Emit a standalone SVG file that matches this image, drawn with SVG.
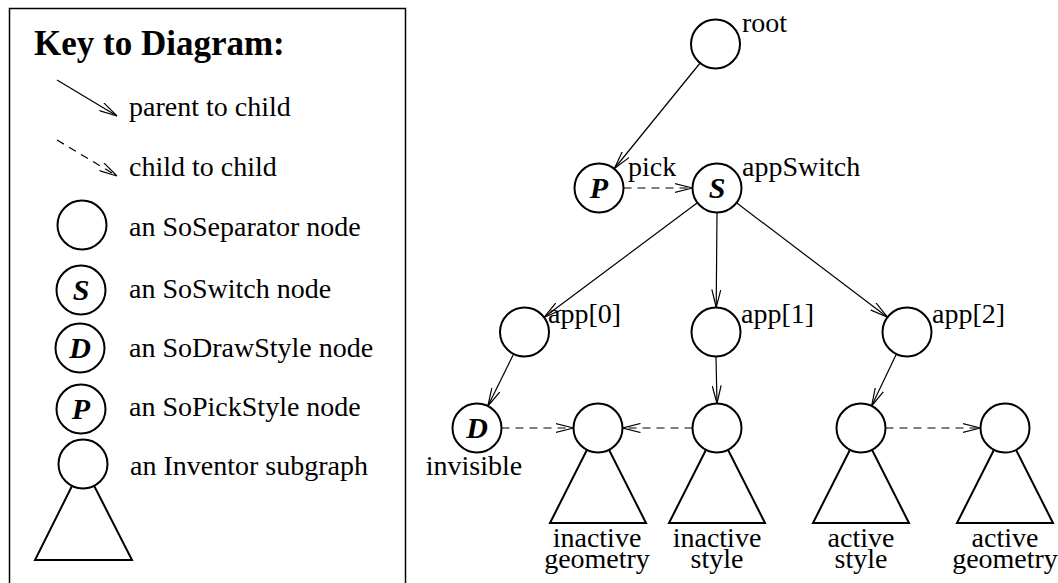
<svg xmlns="http://www.w3.org/2000/svg" width="1058" height="583" viewBox="0 0 1058 583">
<style>
text{font-family:'Liberation Serif','DejaVu Serif','Noto Serif',serif;fill:#000}
.t{font-size:28px}
.tm{font-size:28px;text-anchor:middle}
.title{font-size:35px;font-weight:bold}
.let{font-size:30px;font-weight:bold;font-style:italic;text-anchor:middle}
.n{fill:#fff;stroke:#000;stroke-width:2}
.tri{fill:none;stroke:#000;stroke-width:2;stroke-linejoin:miter}
.e{stroke:#000;stroke-width:1.2;fill:none;marker-end:url(#ah)}
.d{stroke:#000;stroke-width:1.2;fill:none;stroke-dasharray:8 6;marker-end:url(#ah)}
</style>
<defs>
<marker id="ah" viewBox="0 0 18 10" refX="18" refY="5" markerWidth="18" markerHeight="10" markerUnits="userSpaceOnUse" orient="auto">
<path d="M0,0.5 L18,5 L0,9.5" fill="none" stroke="#000" stroke-width="1.2"/>
</marker>
</defs>
<rect width="1058" height="583" fill="#fff"/>

<g id="key" font-family="Liberation Serif, serif">
<rect x="9.5" y="8.5" width="396" height="590" fill="none" stroke="#000" stroke-width="1.5"/>
<text class="title" x="34" y="55">Key to Diagram:</text>
<line class="e" x1="57" y1="80" x2="117" y2="116"/>
<text class="t" x="129" y="116">parent to child</text>
<line class="d" x1="57" y1="140" x2="117" y2="176"/>
<text class="t" x="129" y="176">child to child</text>
<circle class="n" cx="82" cy="225" r="24.5"/>
<text class="t" x="129" y="236">an SoSeparator node</text>
<circle class="n" cx="81" cy="290" r="24.5"/>
<text class="let" x="81" y="300">S</text>
<text class="t" x="129" y="298">an SoSwitch node</text>
<circle class="n" cx="80" cy="348" r="24.5"/>
<text class="let" x="80" y="358">D</text>
<text class="t" x="129" y="357">an SoDrawStyle node</text>
<circle class="n" cx="81" cy="409" r="24.5"/>
<text class="let" x="81" y="419">P</text>
<text class="t" x="129" y="416">an SoPickStyle node</text>
<polygon class="tri" points="83,464 35,560 132,560"/>
<circle class="n" cx="83" cy="464" r="24.5"/>
<text class="t" x="130" y="475">an Inventor subgraph</text>
</g>

<g id="connectors">
<line class="e" x1="700.1" y1="63" x2="614.4" y2="168.5"/>
<line class="d" x1="623.5" y1="188" x2="692.5" y2="188"/>
<line class="e" x1="697.4" y1="202.7" x2="544.1" y2="317.3"/>
<line class="e" x1="717" y1="212.5" x2="716.2" y2="307.5"/>
<line class="e" x1="736.5" y1="202.8" x2="887.5" y2="317.2"/>
<line class="e" x1="513.6" y1="354" x2="487.9" y2="406"/>
<line class="e" x1="716" y1="356.5" x2="717" y2="403.5"/>
<line class="e" x1="896.4" y1="354" x2="871.6" y2="406"/>
<line class="d" x1="501.5" y1="428" x2="573.5" y2="428"/>
<line class="d" x1="692.5" y1="428" x2="622.5" y2="428"/>
<line class="d" x1="885.5" y1="428" x2="980.5" y2="428"/>
</g>

<g id="root">
<circle class="n" cx="715.5" cy="44" r="24.5"/>
<text class="t" x="742" y="32">root</text>
</g>
<g id="pick">
<circle class="n" cx="599" cy="188" r="24.5"/>
<text class="let" x="599" y="198">P</text>
<text class="t" x="628" y="176">pick</text>
</g>
<g id="appSwitch">
<circle class="n" cx="717" cy="188" r="24.5"/>
<text class="let" x="717" y="198">S</text>
<text class="t" x="742" y="176">appSwitch</text>
</g>
<g id="app0">
<circle class="n" cx="524.5" cy="332" r="24.5"/>
<text class="t" x="548" y="323">app[0]</text>
</g>
<g id="app1">
<circle class="n" cx="716" cy="332" r="24.5"/>
<text class="t" x="741" y="323">app[1]</text>
</g>
<g id="app2">
<circle class="n" cx="907" cy="332" r="24.5"/>
<text class="t" x="932" y="323">app[2]</text>
</g>
<g id="invisible">
<circle class="n" cx="477" cy="428" r="24.5"/>
<text class="let" x="477" y="438">D</text>
<text class="tm" x="474" y="475">invisible</text>
</g>
<g id="inactiveGeometry">
<polygon class="tri" points="598,428 550,523 646,523"/>
<circle class="n" cx="598" cy="428" r="24.5"/>
<text class="tm" x="597" y="547">inactive</text>
<text class="tm" x="597" y="568">geometry</text>
</g>
<g id="inactiveStyle">
<polygon class="tri" points="717,428 669,523 765,523"/>
<circle class="n" cx="717" cy="428" r="24.5"/>
<text class="tm" x="717" y="547">inactive</text>
<text class="tm" x="717" y="568">style</text>
</g>
<g id="activeStyle">
<polygon class="tri" points="861,428 813,523 909,523"/>
<circle class="n" cx="861" cy="428" r="24.5"/>
<text class="tm" x="861" y="547">active</text>
<text class="tm" x="861" y="568">style</text>
</g>
<g id="activeGeometry">
<polygon class="tri" points="1005,428 957,523 1053,523"/>
<circle class="n" cx="1005" cy="428" r="24.5"/>
<text class="tm" x="1005" y="547">active</text>
<text class="tm" x="1005" y="568">geometry</text>
</g>
</svg>
